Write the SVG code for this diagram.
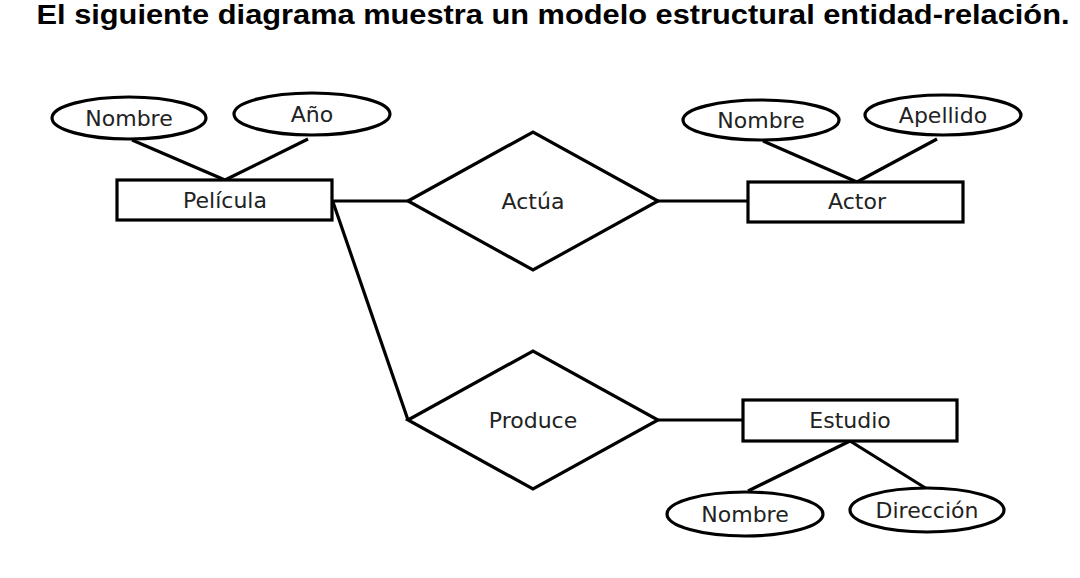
<svg xmlns="http://www.w3.org/2000/svg" width="1080" height="578" viewBox="0 0 1080 578">
<style>
.shape{fill:#fff;stroke:#000;stroke-width:3.2}
.conn line{stroke:#000;stroke-width:3.2;fill:none}
.lbl{font-family:"DejaVu Sans",sans-serif;font-size:22px;fill:#222;text-anchor:middle}
.title{font-family:"Liberation Sans",Arial,sans-serif;font-weight:bold;font-size:27px;fill:#000;text-anchor:middle}
</style>
<rect width="1080" height="578" fill="#fff"/>
<text class="title" x="553" y="24" textLength="1033" lengthAdjust="spacingAndGlyphs">El siguiente diagrama muestra un modelo estructural entidad-relación.</text>
<g class="conn" id="connectors">
<line x1="132" y1="140" x2="225" y2="180"/>
<line x1="308" y1="139" x2="225" y2="180"/>
<line x1="333" y1="201" x2="408" y2="201"/>
<line x1="658" y1="201" x2="748" y2="201"/>
<line x1="763" y1="141" x2="857" y2="182"/>
<line x1="937" y1="139" x2="857" y2="182"/>
<line x1="333" y1="202" x2="408" y2="420"/>
<line x1="658" y1="420" x2="743" y2="420"/>
<line x1="850" y1="441" x2="748" y2="491"/>
<line x1="850" y1="441" x2="927" y2="489"/>
</g>
<g id="pelicula-nombre"><ellipse class="shape" cx="129" cy="118" rx="77" ry="21"/><text class="lbl" x="129" y="125.5">Nombre</text></g>
<g id="pelicula-ano"><ellipse class="shape" cx="312" cy="114" rx="78" ry="21"/><text class="lbl" x="312" y="122">Año</text></g>
<g id="pelicula"><rect class="shape" x="117" y="180" width="215" height="40"/><text class="lbl" x="225" y="207.5">Película</text></g>
<g id="actua"><polygon class="shape" points="408,201 533,132 658,201 533,270"/><text class="lbl" x="533" y="209">Actúa</text></g>
<g id="actor-nombre"><ellipse class="shape" cx="761" cy="120" rx="78" ry="20"/><text class="lbl" x="761" y="127.5">Nombre</text></g>
<g id="actor-apellido"><ellipse class="shape" cx="943" cy="115" rx="78" ry="20"/><text class="lbl" x="943" y="122.5">Apellido</text></g>
<g id="actor"><rect class="shape" x="748" y="182" width="215" height="40"/><text class="lbl" x="857" y="209">Actor</text></g>
<g id="produce"><polygon class="shape" points="408,420 533,351 658,420 533,489"/><text class="lbl" x="533" y="428">Produce</text></g>
<g id="estudio"><rect class="shape" x="743" y="400" width="214" height="41"/><text class="lbl" x="850" y="428">Estudio</text></g>
<g id="estudio-nombre"><ellipse class="shape" cx="745" cy="514" rx="78" ry="22"/><text class="lbl" x="745" y="521.5">Nombre</text></g>
<g id="estudio-direccion"><ellipse class="shape" cx="927" cy="510" rx="77" ry="22"/><text class="lbl" x="927" y="518">Dirección</text></g>
</svg>
